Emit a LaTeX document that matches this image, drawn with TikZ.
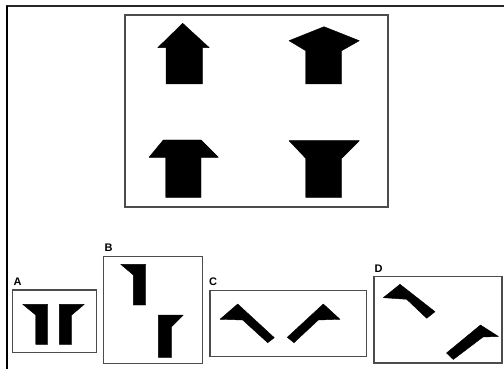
\documentclass[tikz,border=0pt]{standalone}
\usepackage{fontspec}
\setmainfont{Liberation Sans}
\begin{document}
\begin{tikzpicture}[x=1pt,y=-1pt,
  frame/.style={draw=black!70,line width=1.2pt},
  shp/.style={fill=black,draw=black,line width=0.4pt,line join=round},
  lbl/.style={font=\bfseries\fontsize{11}{11}\selectfont,inner sep=0pt,text=black}]
\useasboundingbox[fill=white] (0,0) rectangle (504,369);
% outer frame lines
\draw[black!85,line width=1.4pt] (6,6) -- (504,6);
\draw[black,line width=2pt] (6.5,6) -- (6.5,369);
% main box
\draw[frame] (125,15) rectangle (388,207);
% arrow 1 (top-left)
\fill[shp] (182.7,23.3) -- (209.3,47.7) -- (202.3,47.7) -- (202.3,84) -- (166,84) -- (166,47.7) -- (157.7,47.7) -- cycle;
% arrow 2 (top-right)
\fill[shp] (324,26.7) -- (359.3,40.7) -- (341.7,50.7) -- (341.7,84) -- (305.7,84) -- (305.7,50.7) -- (289,40.7) -- cycle;
% arrow 3 (bottom-left)
\fill[shp] (163.3,140) -- (201,140) -- (218.3,157.3) -- (201,157.3) -- (201,197.3) -- (165.7,197.3) -- (165.7,157.3) -- (149,157.3) -- cycle;
% arrow 4 (bottom-right)
\fill[shp] (289,140.7) -- (359.3,140.7) -- (341.7,158.3) -- (341.7,197.3) -- (305.7,197.3) -- (305.7,158.3) -- cycle;
% box A
\draw[frame] (12.3,290) rectangle (96.7,352.7);
\node[lbl] (la) at (17.5,281.7) {A};
\fill[shp] (22.7,304.3) -- (47.7,304.3) -- (47.7,344.3) -- (35.7,344.3) -- (35.7,315) -- cycle;
\fill[shp] (84.3,304.3) -- (59.3,304.3) -- (59.3,344.3) -- (71.7,344.3) -- (71.7,315) -- cycle;
% box B
\draw[frame] (103.3,256.7) rectangle (202.7,363.3);
\node[lbl] (lb) at (108.5,247.5) {B};
\fill[shp] (120.7,264.3) -- (145.7,264.3) -- (145.7,305) -- (133.3,305) -- (133.3,275) -- cycle;
\fill[shp] (183.3,315) -- (158.3,315) -- (158.3,357.3) -- (171.7,357.3) -- (171.7,326.7) -- cycle;
% box C
\draw[frame] (210,290.7) rectangle (366.7,356.7);
\node[lbl] (lc) at (213,281.7) {C};
\fill[shp] (220,319.3) -- (237.7,304) -- (274.3,337.7) -- (267.7,342.7) -- (242.7,320) -- cycle;
\fill[shp] (340,319.3) -- (323.3,304) -- (287.3,337.3) -- (294,342.7) -- (318.3,320) -- cycle;
% box D
\draw[frame] (374,276.7) rectangle (502,363);
\node[lbl] (ld) at (378.5,268.3) {D};
\fill[shp] (383.3,297.7) -- (400,284.3) -- (435,311.7) -- (426.7,318.3) -- (406.7,299.3) -- cycle;
\fill[shp] (498.5,336.5) -- (480.5,325) -- (446.5,353) -- (453.3,359.5) -- (483,337) -- cycle;
\end{tikzpicture}
\end{document}
